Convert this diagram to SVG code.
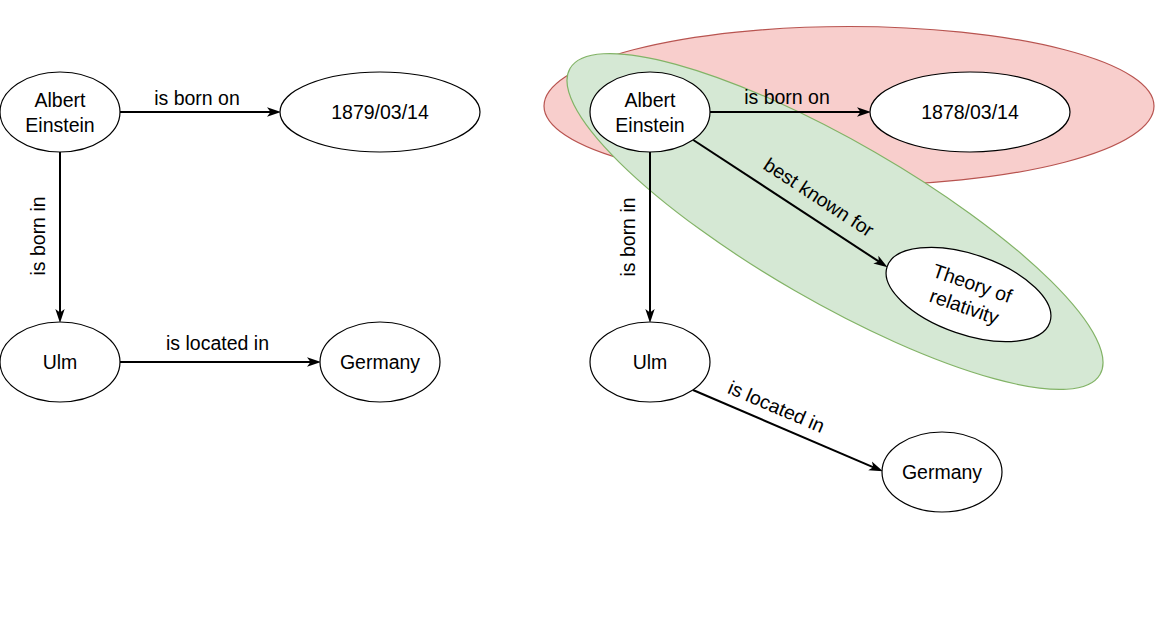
<svg xmlns="http://www.w3.org/2000/svg" width="1155" height="623" viewBox="0 0 1155 623">
<style>
text{font-family:"Liberation Sans",Arial,Helvetica,sans-serif;font-size:19.5px;fill:#000;text-anchor:middle}
.node{fill:#fff;stroke:#000;stroke-width:1.2}
.edge{fill:none;stroke:#000;stroke-width:2}
</style>
<defs>
<marker id="arr" markerUnits="userSpaceOnUse" markerWidth="14" markerHeight="10" viewBox="0 0 12 8" refX="6" refY="4" orient="auto">
<path d="M0,0 L12,4 L0,8 L3,4 Z" fill="#000"/>
</marker>
</defs>
<rect width="1155" height="623" fill="#fff"/>
<g id="groups">
<ellipse id="red-group" cx="849" cy="106" rx="305" ry="79.5" fill="#f8cecc" stroke="#b85450" stroke-width="1.2"/>
<ellipse id="green-group" cx="0" cy="0" rx="306" ry="80" transform="translate(835,221.5) rotate(30)" fill="#d5e8d4" stroke="#82b366" stroke-width="1.2"/>
</g>
<g id="connectors">
<line class="edge" x1="120" y1="112" x2="274" y2="112" marker-end="url(#arr)"/>
<line class="edge" x1="60" y1="152" x2="60" y2="316" marker-end="url(#arr)"/>
<line class="edge" x1="120" y1="362" x2="314" y2="362" marker-end="url(#arr)"/>
<line class="edge" x1="710" y1="112" x2="864" y2="112" marker-end="url(#arr)"/>
<line class="edge" x1="650" y1="152" x2="650" y2="316" marker-end="url(#arr)"/>
<line class="edge" x1="693.3" y1="140" x2="881.7" y2="263.4" marker-end="url(#arr)"/>
<line class="edge" x1="693" y1="390" x2="876.5" y2="468.6" marker-end="url(#arr)"/>
<text x="197" y="105">is born on</text>
<text transform="translate(45,236) rotate(-90)" x="0" y="0">is born in</text>
<text x="217.5" y="350">is located in</text>
<text x="787" y="104">is born on</text>
<text transform="translate(635,237) rotate(-90)" x="0" y="0">is born in</text>
<text transform="translate(819,197) rotate(33.2)" x="0" y="7">best known for</text>
<text transform="translate(776.5,406.5) rotate(23.2)" x="0" y="7">is located in</text>
</g>
<g id="n-einstein-left">
<ellipse class="node" cx="60" cy="112" rx="60" ry="40"/>
<text x="60" y="107">Albert</text>
<text x="60" y="131.5">Einstein</text>
</g>
<g id="n-date-left">
<ellipse class="node" cx="380" cy="112" rx="100" ry="40"/>
<text x="380" y="119">1879/03/14</text>
</g>
<g id="n-ulm-left">
<ellipse class="node" cx="60" cy="362" rx="60" ry="40"/>
<text x="60" y="369">Ulm</text>
</g>
<g id="n-germany-left">
<ellipse class="node" cx="380" cy="362" rx="60" ry="40"/>
<text x="380" y="369">Germany</text>
</g>
<g id="n-einstein-right">
<ellipse class="node" cx="650" cy="112" rx="60" ry="40"/>
<text x="650" y="107">Albert</text>
<text x="650" y="131.5">Einstein</text>
</g>
<g id="n-date-right">
<ellipse class="node" cx="970" cy="112" rx="100" ry="40"/>
<text x="970" y="119">1878/03/14</text>
</g>
<g id="n-theory">
<g transform="translate(968.5,294.5) rotate(19)">
<ellipse class="node" cx="0" cy="0" rx="86" ry="40"/>
<text x="0" y="-5">Theory of</text>
<text x="0" y="19.5">relativity</text>
</g>
</g>
<g id="n-ulm-right">
<ellipse class="node" cx="650" cy="362" rx="60" ry="40"/>
<text x="650" y="369">Ulm</text>
</g>
<g id="n-germany-right">
<ellipse class="node" cx="942" cy="472" rx="60" ry="40"/>
<text x="942" y="479">Germany</text>
</g>
</svg>
